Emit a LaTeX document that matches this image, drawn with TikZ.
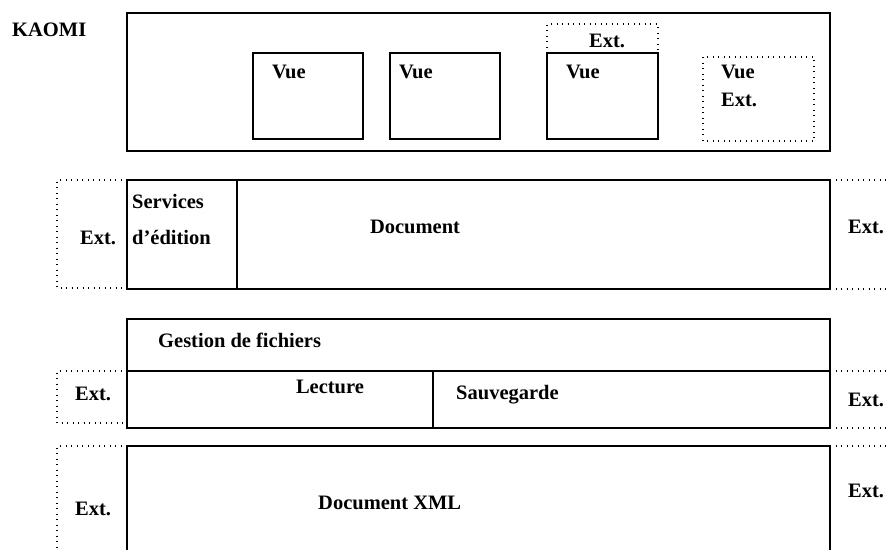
\documentclass[tikz,border=0pt]{standalone}
\usepackage{fontspec}
\setmainfont{Liberation Serif}
\begin{document}
\begin{tikzpicture}[x=1pt,y=-1pt,
  solid box/.style={draw,line width=1.6pt},
  dotline/.style={line width=1.1pt,dash pattern=on 0.9pt off 4.6pt},
  lbl/.style={anchor=base west,inner sep=0pt,font=\bfseries\fontsize{20.5}{24}\selectfont},
  clbl/.style={anchor=base,inner sep=0pt,font=\bfseries\fontsize{20.5}{24}\selectfont}]
\useasboundingbox (0,0) rectangle (888,549);
\begin{scope}
\clip (0,0) rectangle (888,549);
% top KAOMI box
\node[lbl] (kaomi) at (12,36) {KAOMI};
\draw[solid box] (127,13) rectangle (830,151);
\draw[solid box] (253,53) rectangle (363,139);
\draw[solid box] (390,53) rectangle (500,139);
\draw[solid box] (547,53) rectangle (658,139);
\node[lbl] (vue1) at (272,78) {Vue};
\node[lbl] (vue2) at (399,78) {Vue};
\node[lbl] (vue3) at (566,78) {Vue};
\draw[dotline] (547,53) -- (547,24) -- (658,24) -- (658,53);
\node[lbl] (ext0) at (589,47) {Ext.};
\draw[dotline] (703,57) rectangle (814,141);
\node[lbl] (vue4) at (721,78) {Vue};
\node[lbl] (ext00) at (721,106) {Ext.};
% row 2
\draw[solid box] (127,180) rectangle (830,289);
\draw[solid box] (237,180) -- (237,289);
\node[lbl] (serv) at (132,208) {Services};
\node[lbl] (edit) at (132,244) {d’édition};
\node[clbl] (doc) at (415,233) {Document};
\draw[dotline] (127,180) -- (57,180) -- (57,288) -- (127,288);
\node[lbl] (ext1) at (80,244) {Ext.};
\draw[dotline] (830,180) -- (888,180);
\draw[dotline] (830,289) -- (888,289);
\node[lbl] (ext2) at (848,233) {Ext.};
% row 3
\draw[solid box] (127,319) rectangle (830,428);
\draw[solid box] (127,371) -- (830,371);
\draw[solid box] (433,371) -- (433,428);
\node[lbl] (gest) at (158,347) {Gestion de fichiers};
\node[clbl] (lect) at (330,393) {Lecture};
\node[lbl] (sauv) at (456,399) {Sauvegarde};
\draw[dotline] (127,371) -- (57,371) -- (57,423) -- (127,423);
\node[lbl] (ext3) at (75,400) {Ext.};
\draw[dotline] (830,371) -- (888,371);
\draw[dotline] (830,428) -- (888,428);
\node[lbl] (ext4) at (848,406) {Ext.};
% row 4
\draw[solid box] (127,560) -- (127,446) -- (830,446) -- (830,560);
\node[lbl] (xml) at (318,509) {Document XML};
\draw[dotline] (127,446) -- (57,446) -- (57,560);
\node[lbl] (ext5) at (75,515) {Ext.};
\draw[dotline] (830,446) -- (888,446);
\node[lbl] (ext6) at (848,497) {Ext.};
\end{scope}
\end{tikzpicture}
\end{document}
